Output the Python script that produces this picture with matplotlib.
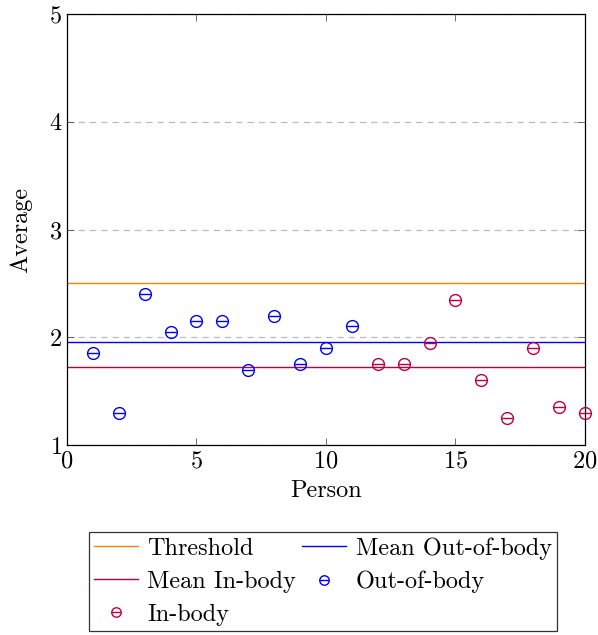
import matplotlib

matplotlib.use("Agg")
import matplotlib.pyplot as plt
from matplotlib.legend_handler import HandlerTuple

plt.rcParams["font.family"] = ["cmr10", "DejaVu Serif"]
plt.rcParams["mathtext.fontset"] = "cm"
plt.rcParams["axes.formatter.use_mathtext"] = True

# data
persons_out = [1, 2, 3, 4, 5, 6, 7, 8, 9, 10, 11]
avg_out = [1.85, 1.30, 2.40, 2.05, 2.15, 2.15, 1.70, 2.20, 1.75, 1.90, 2.10]
persons_in = [12, 13, 14, 15, 16, 17, 18, 19, 20]
avg_in = [1.75, 1.75, 1.95, 2.35, 1.60, 1.25, 1.90, 1.35, 1.30]
threshold = 2.5
mean_out = 1.96
mean_in = 1.72

ORANGE = "#FF8000"
BLUE = "#0000FF"
PURPLE = "#BF0040"
FS = 17.5

fig = plt.figure(figsize=(5.98, 6.35), dpi=100)
ax = fig.add_axes([0.1120, 0.2992, 0.8662, 0.6787])

ax.set_xlim(0, 20)
ax.set_ylim(1, 5)
ax.set_xticks([0, 5, 10, 15, 20])
ax.set_yticks([1, 2, 3, 4, 5])
ax.grid(axis="y", color="#bbbbbb", linestyle=(0, (5, 4)), linewidth=0.9)
ax.set_axisbelow(True)
ax.tick_params(direction="in", length=5, labelsize=FS, width=0.6,
               top=True, right=True, color="#555555")
ax.tick_params(axis="x", pad=4)
for s in ax.spines.values():
    s.set_linewidth(0.9)

h_thr = ax.axhline(threshold, color=ORANGE, linewidth=1.0)
h_mout = ax.axhline(mean_out, color=BLUE, linewidth=1.0)
h_min = ax.axhline(mean_in, color=PURPLE, linewidth=1.0)


def ominus(x, y, color, ms=8.5):
    c, = ax.plot(x, y, linestyle="none", marker="o", ms=ms, mfc="none",
                 mec=color, mew=1.0, clip_on=False, zorder=3)
    b, = ax.plot(x, y, linestyle="none", marker="_", ms=ms,
                 mec=color, mew=1.0, clip_on=False, zorder=3)
    return (c, b)


h_out = ominus(persons_out, avg_out, BLUE)
h_in = ominus(persons_in, avg_in, PURPLE)

ax.set_xlabel("Person", fontsize=FS, labelpad=5)
ax.set_ylabel("Average", fontsize=FS, labelpad=12)

handles = [h_thr, h_min, h_in, h_mout, h_out]
labels = ["Threshold", "Mean In-body", "In-body", "Mean Out-of-body", "Out-of-body"]
leg = fig.legend(handles, labels, ncol=2, loc="upper center",
                 bbox_to_anchor=(0.540, 1 - 532 / 635), borderaxespad=0,
                 fontsize=FS,
                 handler_map={tuple: HandlerTuple(ndivide=1, pad=0)},
                 frameon=True, fancybox=False, edgecolor="black",
                 handlelength=1.8, columnspacing=0.25, handletextpad=0.4,
                 labelspacing=0.45, borderpad=0.22, markerscale=0.8)
leg.get_frame().set_linewidth(0.9)

fig.savefig("out.png", dpi=100)
